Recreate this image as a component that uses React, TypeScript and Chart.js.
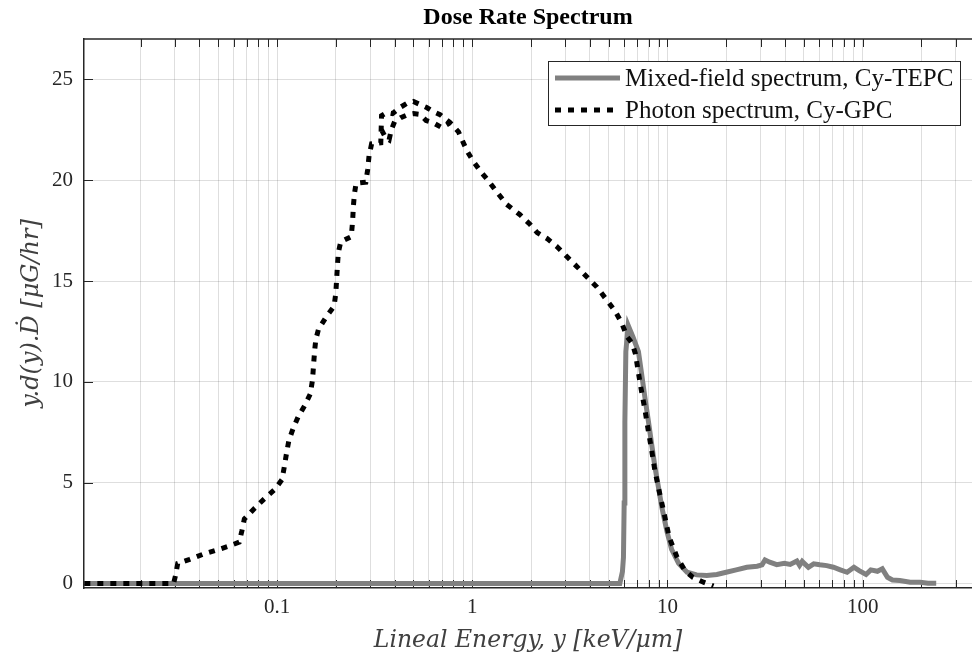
import React, { useEffect, useRef } from "react";
import { Chart, registerables } from "chart.js";

Chart.register(...registerables);

const TITLE = "Dose Rate Spectrum";
const X_LABEL = "Lineal Energy, y [keV/μm]";
const Y_LABEL = "y.d(y).Ḋ [μG/hr]";
const SERIES_NAMES = ["Mixed-field spectrum, Cy-TEPC", "Photon spectrum, Cy-GPC"];

const X_MIN = 0.01026;
const X_MAX = 363;
const Y_MIN = -0.22;
const Y_MAX = 27;
const Y_TICKS = [0, 5, 10, 15, 20, 25];
const X_LABELLED = [0.1, 1, 10, 100];

// Mixed-field spectrum (Cy-TEPC): [lineal energy, dose rate]
const mixedPoints: [number, number][] = [
  [0.0103, 0], [5.7, 0], [5.88, 0.6], [5.95, 1.3], [6.0, 4], [6.05, 8], [6.12, 11.5],
  [6.29, 12.8], [6.67, 12.2], [7.1, 11.5], [7.37, 10.4], [7.67, 9.2], [7.97, 8.1],
  [8.3, 6.9], [8.62, 5.8], [8.98, 4.8], [9.35, 3.8], [9.93, 2.6], [10.5, 1.7],
  [11.4, 1.0], [12.6, 0.56], [14.1, 0.43], [15.9, 0.4], [17.9, 0.45], [20, 0.56],
  [22.5, 0.68], [25.5, 0.81], [28.8, 0.86], [30.5, 0.93], [31.6, 1.17], [33.4, 1.06],
  [36.3, 0.94], [39.7, 1.0], [42.5, 0.95], [46, 1.12], [47.5, 0.9], [49, 1.1],
  [52.7, 0.81], [56.1, 0.98], [60.3, 0.93], [65.4, 0.89], [70.8, 0.81], [76.8, 0.68],
  [83.2, 0.56], [90.2, 0.81], [95.9, 0.64], [104, 0.45], [110, 0.68], [119, 0.61],
  [126, 0.73], [134, 0.31], [142, 0.18], [155, 0.15], [175, 0.07], [197, 0.07],
  [216, 0.02], [238, 0.02],
];

// Photon spectrum (Cy-GPC), main trace
const photonPoints: [number, number][] = [
  [0.0103, 0], [0.0295, 0], [0.0302, 0.4], [0.031, 1.0], [0.0357, 1.2], [0.0417, 1.45],
  [0.048, 1.63], [0.056, 1.84], [0.064, 2.05], [0.066, 2.6], [0.068, 3.2], [0.077, 3.75],
  [0.086, 4.2], [0.097, 4.65], [0.106, 5.15], [0.109, 5.8], [0.112, 6.5], [0.115, 7.1],
  [0.121, 7.7], [0.128, 8.25], [0.139, 8.85], [0.148, 9.4], [0.152, 10.1], [0.154, 10.9],
  [0.156, 11.6], [0.158, 12.1], [0.163, 12.6], [0.178, 13.2], [0.196, 13.75], [0.2, 14.4],
  [0.202, 15.1], [0.204, 15.8], [0.206, 16.4], [0.212, 16.95], [0.24, 17.2], [0.244, 18.0],
  [0.246, 18.7], [0.249, 19.3], [0.254, 19.85], [0.285, 19.9], [0.291, 20.5], [0.296, 21.2],
  [0.305, 21.8], [0.34, 21.85], [0.343, 23.2], [0.364, 23.35], [0.39, 23.3], [0.426, 23.6],
  [0.461, 23.8], [0.499, 23.9], [0.54, 23.75], [0.584, 23.6], [0.632, 23.4], [0.684, 23.25],
  [0.77, 22.85], [0.85, 22.4], [0.94, 21.45], [1.01, 20.95], [1.11, 20.4], [1.21, 19.97],
  [1.34, 19.4], [1.5, 18.8], [1.75, 18.3], [1.98, 17.8], [2.15, 17.4], [2.42, 17.1],
  [2.72, 16.7], [3.06, 16.2], [3.45, 15.7], [3.87, 15.2], [4.35, 14.7], [4.89, 14.05],
  [5.4, 13.5], [5.84, 12.9], [6.2, 12.25], [6.6, 11.9], [6.85, 11.4], [7.25, 9.9],
  [7.67, 8.6], [7.97, 7.6], [8.3, 6.6], [8.62, 5.6], [9.13, 4.45], [9.7, 3.3],
  [10.2, 2.3], [11.2, 1.3], [12.3, 0.64], [13.5, 0.31], [15.3, 0.07], [17.2, -0.12],
];

// Photon spectrum, second (lower) trace around the peak
const photonLowerPoints: [number, number][] = [
  [0.343, 22.5], [0.36, 22.1], [0.375, 22.0], [0.385, 22.5], [0.4, 22.9], [0.43, 23.1],
  [0.47, 23.26], [0.5, 23.3], [0.54, 23.26], [0.58, 22.96], [0.63, 22.85], [0.7, 22.6],
  [0.77, 22.85],
];

const FONT = "'Liberation Serif', 'Times New Roman', serif";
const MATH_FONT = "'DejaVu Serif', 'Liberation Serif', serif";
const AXIS_COLOR = "#262626";
const GRID_COLOR = "rgba(0,0,0,0.13)";
const MIXED_COLOR = "#808080";
const PHOTON_COLOR = "#000000";
const PHOTON_DASH = [6, 7];

function logMinorTicks(min: number, max: number): number[] {
  const out: number[] = [];
  for (let e = Math.floor(Math.log10(min)); e <= Math.ceil(Math.log10(max)); e++) {
    for (let m = 1; m <= 9; m++) {
      const v = parseFloat((m * Math.pow(10, e)).toPrecision(6));
      if (v >= min && v <= max) out.push(v);
    }
  }
  return out;
}

const X_TICK_VALUES = logMinorTicks(X_MIN, X_MAX);

const framePlugin = {
  id: "frameDecor",
  beforeDatasetsDraw(chart: any) {
    const { ctx, chartArea, scales } = chart;
    const xs = scales.x;
    const ys = scales.y;
    ctx.save();
    ctx.strokeStyle = AXIS_COLOR;
    ctx.lineWidth = 1;
    for (const v of X_TICK_VALUES) {
      const px = Math.round(xs.getPixelForValue(v)) + 0.5;
      ctx.beginPath();
      ctx.moveTo(px, chartArea.bottom);
      ctx.lineTo(px, chartArea.bottom - 8);
      ctx.moveTo(px, chartArea.top);
      ctx.lineTo(px, chartArea.top + 8);
      ctx.stroke();
    }
    for (const v of Y_TICKS) {
      const py = Math.round(ys.getPixelForValue(v)) + 0.5;
      ctx.beginPath();
      ctx.moveTo(chartArea.left, py);
      ctx.lineTo(chartArea.left + 9, py);
      ctx.stroke();
    }
    ctx.lineWidth = 1.5;
    ctx.beginPath();
    ctx.moveTo(chartArea.left, chartArea.top);
    ctx.lineTo(chartArea.right, chartArea.top);
    ctx.stroke();
    ctx.restore();
  },
  afterDatasetsDraw(chart: any) {
    const { ctx, chartArea } = chart;
    const boxRight = chartArea.right - 12;
    const boxLeft = boxRight - 412;
    const boxTop = chartArea.top + 22;
    const boxH = 64;
    ctx.save();
    ctx.fillStyle = "#ffffff";
    ctx.fillRect(boxLeft, boxTop, boxRight - boxLeft, boxH);
    ctx.strokeStyle = AXIS_COLOR;
    ctx.lineWidth = 1;
    ctx.strokeRect(boxLeft + 0.5, boxTop + 0.5, boxRight - boxLeft, boxH);
    const rows = [boxTop + 17, boxTop + 49];
    const lineL = boxLeft + 7;
    const lineR = boxLeft + 72;
    ctx.strokeStyle = MIXED_COLOR;
    ctx.lineWidth = 5;
    ctx.setLineDash([]);
    ctx.beginPath();
    ctx.moveTo(lineL, rows[0]);
    ctx.lineTo(lineR, rows[0]);
    ctx.stroke();
    ctx.strokeStyle = PHOTON_COLOR;
    ctx.setLineDash(PHOTON_DASH);
    ctx.beginPath();
    ctx.moveTo(lineL, rows[1]);
    ctx.lineTo(lineR, rows[1]);
    ctx.stroke();
    ctx.setLineDash([]);
    ctx.fillStyle = "#111111";
    ctx.font = `25px ${FONT}`;
    ctx.textBaseline = "middle";
    ctx.textAlign = "left";
    ctx.fillText(SERIES_NAMES[0], lineR + 5, rows[0] + 1);
    ctx.fillText(SERIES_NAMES[1], lineR + 5, rows[1] + 1);
    ctx.restore();
  },
};

function xLabel(v: number): string {
  for (const t of X_LABELLED) {
    if (Math.abs(v - t) / t < 1e-6) return String(t);
  }
  return "";
}

export default function App() {
  const canvasRef = useRef<HTMLCanvasElement | null>(null);

  useEffect(() => {
    const canvas = canvasRef.current;
    if (!canvas) return;
    const photonData: any[] = photonPoints.map(([x, y]) => ({ x, y }));
    photonData.push({ x: photonLowerPoints[0][0], y: null });
    photonLowerPoints.forEach(([x, y]) => photonData.push({ x, y }));

    const chart = new Chart(canvas, {
      type: "line",
      data: {
        datasets: [
          {
            label: SERIES_NAMES[1],
            data: photonData,
            borderColor: PHOTON_COLOR,
            borderWidth: 5,
            borderDash: PHOTON_DASH,
            borderCapStyle: "butt",
            pointRadius: 0,
            tension: 0,
            fill: false,
            spanGaps: false,
            order: 0,
          },
          {
            label: SERIES_NAMES[0],
            data: mixedPoints.map(([x, y]) => ({ x, y })),
            borderColor: MIXED_COLOR,
            borderWidth: 5,
            pointRadius: 0,
            tension: 0,
            fill: false,
            order: 1,
          },
        ],
      },
      options: {
        animation: false,
        responsive: false,
        devicePixelRatio: 1,
        layout: { padding: 0 },
        plugins: {
          legend: { display: false },
          tooltip: { enabled: false },
          title: {
            display: true,
            text: TITLE,
            color: "#000000",
            fullSize: false,
            font: { family: FONT, size: 24, weight: "bold" },
            padding: { top: 3.6, bottom: 6.6 },
          },
        },
        scales: {
          x: {
            type: "logarithmic",
            min: X_MIN,
            max: X_MAX,
            afterBuildTicks: (s: any) => {
              s.ticks = X_TICK_VALUES.map((v) => ({ value: v }));
            },
            afterFit: (s: any) => {
              s.height = 70;
            },
            ticks: {
              autoSkip: false,
              maxRotation: 0,
              minRotation: 0,
              padding: 7,
              color: AXIS_COLOR,
              font: { family: FONT, size: 21 },
              callback: (v: any) => xLabel(Number(v)),
            },
            grid: { color: GRID_COLOR, lineWidth: 1, drawTicks: false },
            border: { display: true, color: AXIS_COLOR, width: 1.5 },
            title: {
              display: true,
              text: X_LABEL,
              color: "#404040",
              font: { family: MATH_FONT, size: 23.5, style: "italic" },
              padding: { top: 0, bottom: 3.5 },
            },
          },
          y: {
            type: "linear",
            min: Y_MIN,
            max: Y_MAX,
            afterBuildTicks: (s: any) => {
              s.ticks = Y_TICKS.map((v) => ({ value: v }));
            },
            afterFit: (s: any) => {
              s.width = 84;
            },
            ticks: {
              padding: 11,
              color: AXIS_COLOR,
              font: { family: FONT, size: 21 },
            },
            grid: { color: GRID_COLOR, lineWidth: 1, drawTicks: false },
            border: { display: true, color: AXIS_COLOR, width: 1.5 },
            title: {
              display: true,
              text: Y_LABEL,
              color: "#404040",
              font: { family: MATH_FONT, size: 24, style: "italic" },
              padding: { top: 17.6, bottom: 0 },
            },
          },
        },
      },
      plugins: [framePlugin],
    } as any);
    return () => chart.destroy();
  }, []);

  return (
    <div
      style={{
        position: "fixed",
        left: 0,
        top: 0,
        width: 972,
        height: 658,
        background: "#ffffff",
      }}
    >
      <canvas ref={canvasRef} width={972} height={658} style={{ width: 972, height: 658, display: "block" }} />
    </div>
  );
}
